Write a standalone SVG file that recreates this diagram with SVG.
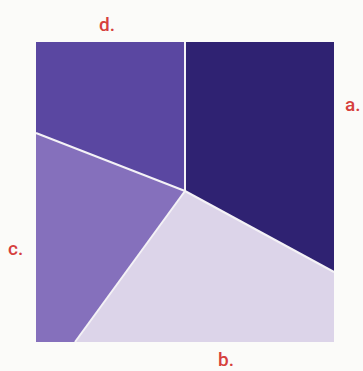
<svg xmlns="http://www.w3.org/2000/svg" width="363" height="371" viewBox="0 0 363 371">
<style>
.lbl{font-family:Roboto,"Liberation Sans",sans-serif;font-size:19px;font-weight:500;fill:#d6403d}
.sep{stroke:#f4f2f6;stroke-width:2;fill:none}
</style>
<rect width="363" height="371" fill="#fbfbf9"/>
<g id="region-a"><polygon points="185,42 334,42 334,272 185,191" fill="#2f2272"/></g>
<g id="region-b"><polygon points="185,191 334,272 334,342 75,342" fill="#dcd4e9"/></g>
<g id="region-c"><polygon points="36,133 185,191 75,342 36,342" fill="#8570bc"/></g>
<g id="region-d"><polygon points="36,42 185,42 185,191 36,133" fill="#5a47a1"/></g>
<g id="connectors">
<line class="sep" x1="185" y1="42" x2="185" y2="191"/>
<line class="sep" x1="36" y1="133" x2="185" y2="191"/>
<line class="sep" x1="185" y1="191" x2="334" y2="272"/>
<line class="sep" x1="185" y1="191" x2="75" y2="342"/>
</g>
<g id="labels">
<text class="lbl" x="99" y="31">d.</text>
<text class="lbl" x="345" y="111">a.</text>
<text class="lbl" x="8" y="255">c.</text>
<text class="lbl" x="218" y="366">b.</text>
</g>
</svg>
